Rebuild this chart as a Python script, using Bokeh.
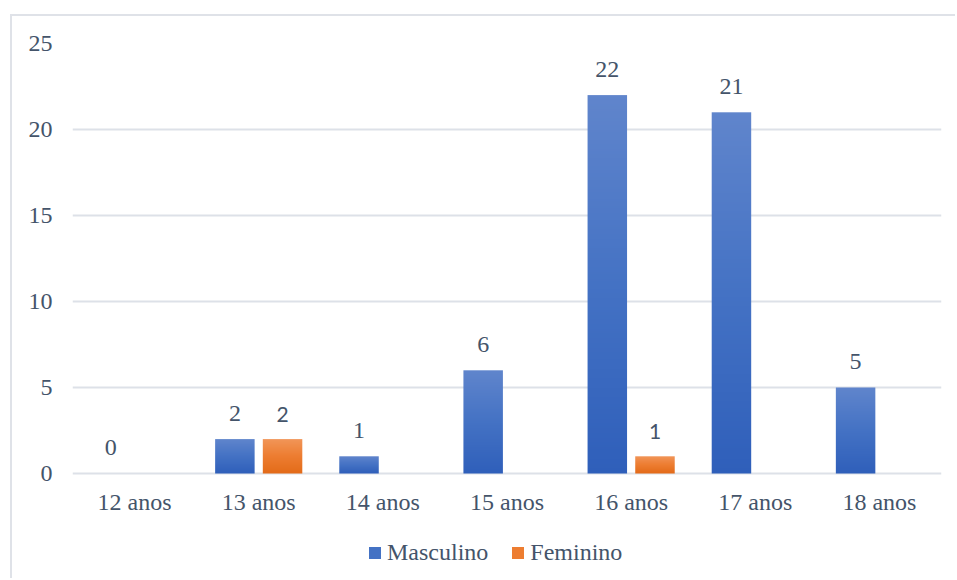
import numpy as np
from bokeh.plotting import figure
from bokeh.models import Range1d, FixedTicker, Legend, LegendItem
from bokeh.core.properties import value
from bokeh.embed import file_html
from bokeh.resources import INLINE

# ---- data ----
categories = ["12 anos", "13 anos", "14 anos", "15 anos", "16 anos", "17 anos", "18 anos"]
masculino = [0, 2, 1, 6, 22, 21, 5]
feminino = [None, 2, None, None, 1, None, None]
y_ticks = [0, 5, 10, 15, 20, 25]

TEXT = "#44546A"
GRID = "#dde1e8"
SERIF = "Liberation Serif"

# gradient stops for the bars: bottom, middle, top
BLUE_STOPS = ["#2f5fba", "#4472c4", "#6085cc"]
ORANGE_STOPS = ["#e36b19", "#ed7d31", "#f19659"]

BAR_W = 0.318
OFFSET = 0.192

# vertical layout of the frame (pixels): the value axis spans PX_AXIS,
# the strip under it holds category names and the legend
PX_AXIS = 430
PX_BELOW = 107
Y_MAX = 25
Y_MIN = -PX_BELOW * Y_MAX / PX_AXIS


def hex2rgb(h):
    h = h.lstrip("#")
    return [int(h[i:i + 2], 16) for i in (0, 2, 4)]


def gradient_image(stops, rows=160):
    """A one-pixel-wide RGBA column fading from the bottom stop to the top stop."""
    a, m, b = (np.array(hex2rgb(s), dtype=float) for s in stops)
    img = np.empty((rows, 1), dtype=np.uint32)
    view = img.view(dtype=np.uint8).reshape((rows, 1, 4))
    for r in range(rows):
        t = (r + 0.5) / rows
        c = a + (m - a) * (t / 0.5) if t <= 0.5 else m + (b - m) * ((t - 0.5) / 0.5)
        view[r, 0, :3] = np.round(c).astype(np.uint8)
        view[r, 0, 3] = 255
    return img


p = figure(width=945, height=564, output_backend="svg", toolbar_location=None,
           x_axis_type=None,
           x_range=Range1d(-0.5, len(categories) - 0.5), y_range=Range1d(Y_MIN, Y_MAX),
           min_border_left=60, min_border_right=16, min_border_top=27,
           min_border_bottom=0)
p.styles = {"border-left": "2px solid #dfe2e8", "border-top": "2px solid #dfe2e8",
            "margin-left": "10px", "margin-top": "14px"}
p.outline_line_color = None
p.background_fill_color = "white"
p.border_fill_color = "white"

# value axis
p.yaxis.ticker = FixedTicker(ticks=y_ticks)
p.yaxis.axis_line_color = None
p.yaxis.major_tick_line_color = None
p.yaxis.minor_tick_line_color = None
p.yaxis.major_tick_out = 0
p.yaxis.major_label_standoff = 20
p.yaxis.major_label_text_font = SERIF
p.yaxis.major_label_text_font_size = "24px"
p.yaxis.major_label_text_color = TEXT

p.ygrid.ticker = FixedTicker(ticks=y_ticks)
p.ygrid.grid_line_color = GRID
p.ygrid.grid_line_width = 2

# bars, each a gradient stretched over its value
blue_img = gradient_image(BLUE_STOPS)
orange_img = gradient_image(ORANGE_STOPS)
for i, v in enumerate(masculino):
    if v:
        p.image_rgba(image=[blue_img], x=i - OFFSET - BAR_W / 2, y=0, dw=BAR_W, dh=v)
for i, v in enumerate(feminino):
    if v:
        p.image_rgba(image=[orange_img], x=i + OFFSET - BAR_W / 2, y=0, dw=BAR_W, dh=v)

# category names under the zero line
p.text(x=list(range(len(categories))), y=[0] * len(categories), text=categories,
       text_align="center", text_baseline="middle", y_offset=28,
       text_font=value(SERIF), text_font_size="24px", text_color=TEXT)

# value labels
mx = [i - OFFSET for i, v in enumerate(masculino) if v is not None]
my = [v for v in masculino if v is not None]
p.text(x=mx, y=my, text=[str(v) for v in my], text_align="center",
       text_baseline="middle", y_offset=-26, text_font=value(SERIF),
       text_font_size="24px", text_color=TEXT)

fx = [i + OFFSET for i, v in enumerate(feminino) if v is not None]
fy = [v for v in feminino if v is not None]
p.text(x=fx, y=fy, text=[str(v) for v in fy], text_align="center",
       text_baseline="middle", y_offset=-24.5, text_font=value("Lato"),
       text_font_size="21px", text_color=TEXT)

# legend swatches (renderers with no drawable extent, used only for the key)
nan = float("nan")
sw_m = p.quad(left=[nan], right=[nan], top=[nan], bottom=[nan],
              fill_color=BLUE_STOPS[1], line_color=None)
sw_f = p.quad(left=[nan], right=[nan], top=[nan], bottom=[nan],
              fill_color=ORANGE_STOPS[1], line_color=None)
legend = Legend(items=[
    LegendItem(label="Masculino", renderers=[sw_m]),
    LegendItem(label="Feminino", renderers=[sw_f]),
], orientation="horizontal", location=(295, 14))
legend.label_text_font = SERIF
legend.label_text_font_size = "24px"
legend.label_text_color = TEXT
legend.glyph_width = 15
legend.glyph_height = 15
legend.label_standoff = 5
legend.spacing = 22
legend.border_line_color = None
legend.background_fill_alpha = 0
legend.margin = 0
legend.padding = 4
p.add_layout(legend, "center")

open("out.html", "w").write(file_html(p, INLINE))
